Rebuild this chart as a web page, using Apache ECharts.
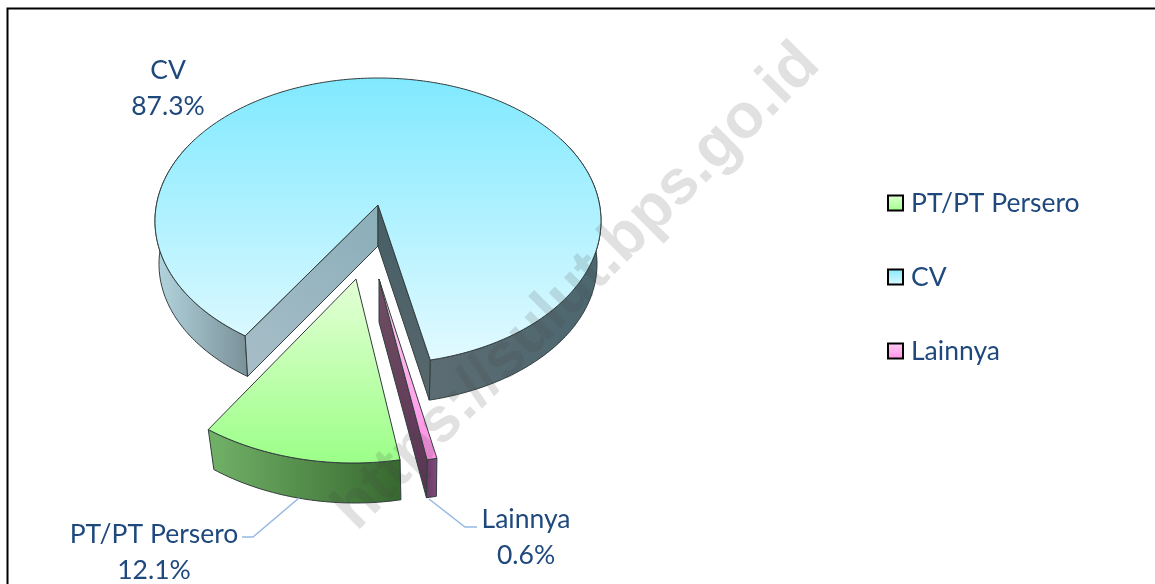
<!DOCTYPE html>
<html>
<head>
<meta charset="utf-8">
<title>Pie</title>
<style>
html, body { margin: 0; padding: 0; background: #fff; }
#main { width: 1155px; height: 584px; }
</style>
<script src="https://cdn.jsdelivr.net/npm/echarts@6/dist/echarts.min.js"></script>
</head>
<body>
<div id="main"></div>
<script>
//categories and values, clockwise from the first slice
var categories = ['PT/PT Persero', 'CV', 'Lainnya'];
var shareValues = [12.1, 87.3, 0.6];

var LABEL_COLOR = '#1f497d';
var LABEL_FONT = '26.5px Lato, "Open Sans", sans-serif';
var EDGE = '#333d3d';
var START_ANGLE = -10.16; //degrees from straight down, clockwise on screen
var WARP = 0.1; //fakes the perspective of the tilted pie

function grad(x0, y0, x1, y1, c0, c1) {
	return new echarts.graphic.LinearGradient(x0, y0, x1, y1, [
		{ offset: 0, color: c0 },
		{ offset: 1, color: c1 }
	]);
}

//one layout per slice: top and bottom ellipse, apex of the wedge, colours, label
var layouts = {
	'CV': {
		top: { cx: 378, cy: 221, rx: 223, ry: 143 },
		bottom: { cx: 378, cy: 264, rx: 219, ry: 140 },
		apex: [378, 205],
		apexLow: [378, 246],
		topFill: grad(0, 0, 0, 1, '#80e9ff', '#e2faff'),
		walls: [
			{ to: 120, fill: grad(0, 0, 1, 0, '#b4d6e0', '#7a9098') },
			{ to: 240, fill: grad(1, 0, 0, 0, '#4c6770', '#5c6c72') }
		],
		faces: [
			{ end: 'start', fill: grad(1, 0, 0, 1, '#8aaeb9', '#a8bec8') },
			{ end: 'end', fill: grad(0, 0, 0, 1, '#465e66', '#58686d') }
		],
		labelPos: [168, 88],
		leader: null
	},
	'PT/PT Persero': {
		top: { cx: 353, cy: 293, rx: 243, ry: 170 },
		bottom: { cx: 355, cy: 333, rx: 237, ry: 170 },
		apex: [356, 279],
		topFill: grad(0, 0, 0, 1, '#e4ffd6', '#9cff88'),
		walls: [
			{ fill: grad(0, 0, 1, 0, '#72b268', '#37682f') }
		],
		faces: [],
		labelPos: [154, 552],
		leader: [[242, 537], [253, 537], [299, 498]]
	},
	'Lainnya': {
		top: { cx: 380, cy: 293, rx: 243, ry: 170 },
		bottom: { cx: 379, cy: 331, rx: 245, ry: 170 },
		apex: [379, 279],
		apexLow: [379, 322],
		topFill: grad(0, 0, 0, 1, '#ffd0f4', '#ff8fe6'),
		walls: [
			{ fill: grad(0, 0, 1, 0, '#6a3a62', '#804c80') }
		],
		faces: [
			{ end: 'end', fill: grad(0, 0, 0, 1, '#6e5062', '#5c3256') }
		],
		labelPos: [526, 537],
		leader: [[477, 527], [465, 527], [429, 499]]
	}
};

var total = 0;
for (var i = 0; i < shareValues.length; i++) {
	total += shareValues[i];
}

//angle range of a slice, taken from the values
var sliceRange = function(index) {
	var before = 0;
	for (var i = 0; i < index; i++) {
		before += shareValues[i];
	}
	return [
		START_ANGLE + before / total * 360,
		START_ANGLE + (before + shareValues[index]) / total * 360
	];
};

var warp = function(deg) {
	var r = deg * Math.PI / 180;
	return r + WARP * Math.sin(r);
};

var onEllipse = function(e, deg) {
	var a = warp(deg);
	return [e.cx - e.rx * Math.sin(a), e.cy + e.ry * Math.cos(a)];
};

var arc = function(e, from, to) {
	var pts = [];
	var n = Math.max(2, Math.ceil(Math.abs(to - from)));
	for (var i = 0; i <= n; i++) {
		pts.push(onEllipse(e, from + (to - from) * i / n));
	}
	return pts;
};

var polygon = function(points, fill, width) {
	return {
		type: 'polygon',
		shape: { points: points },
		style: { fill: fill, stroke: EDGE, lineWidth: width || 1 }
	};
};

var renderSlice = function(params, api) {
	var index = params.seriesIndex;
	var name = categories[index];
	var lay = layouts[name];
	var range = sliceRange(index);
	var children = [];

	//outer wall
	var wallEnds = lay.walls.length == 2 ? [[range[0], lay.walls[0].to], [range[1], lay.walls[1].to]] : [range];
	lay.walls.forEach(function(w, k) {
		var a = wallEnds[k][0];
		var b = wallEnds[k][1];
		children.push(polygon(arc(lay.top, a, b).concat(arc(lay.bottom, b, a)), w.fill));
	});

	//cut faces of the wedge
	lay.faces.forEach(function(f) {
		var deg = f.end == 'start' ? range[0] : range[1];
		children.push(polygon([
			lay.apex,
			onEllipse(lay.top, deg),
			onEllipse(lay.bottom, deg),
			lay.apexLow
		], f.fill));
	});

	//top surface
	children.push(polygon([lay.apex].concat(arc(lay.top, range[0], range[1])), lay.topFill));

	//leader line
	if (lay.leader) {
		children.push({
			type: 'polyline',
			shape: { points: lay.leader },
			style: { fill: null, stroke: '#95b8e3', lineWidth: 1.5 }
		});
	}

	//label, two lines
	children.push({
		type: 'text',
		style: {
			text: name + '\n' + api.value(0).toFixed(1) + '%',
			x: lay.labelPos[0],
			y: lay.labelPos[1],
			fill: LABEL_COLOR,
			font: LABEL_FONT,
			lineHeight: 36,
			align: 'center',
			verticalAlign: 'middle'
		}
	});

	return { type: 'group', children: children };
};

//drawn back to front but kept in category order so the angles follow the data
var drawOrder = { 'CV': 1, 'PT/PT Persero': 2, 'Lainnya': 3 };
var seriesList = categories.map(function(name, idx) {
	return {
		name: name,
		type: 'custom',
		coordinateSystem: 'none',
		z: drawOrder[name] + 1,
		silent: true,
		renderItem: renderSlice,
		data: [shareValues[idx]]
	};
});

var legendColors = {
	'PT/PT Persero': grad(0, 0, 0, 1, '#e4ffd6', '#9cff88'),
	'CV': grad(0, 0, 0, 1, '#80e9ff', '#e2faff'),
	'Lainnya': grad(0, 0, 0, 1, '#ffd0f4', '#ff8fe6')
};

var option = {
	animation: false,
	backgroundColor: '#ffffff',
	legend: {
		orient: 'vertical',
		left: 882,
		top: 181,
		itemWidth: 15,
		itemHeight: 15,
		itemGap: 40,
		icon: 'rect',
		textStyle: { color: LABEL_COLOR, fontFamily: 'Lato, "Open Sans", sans-serif', fontSize: 26.5, padding: [0, 0, 0, 3], lineHeight: 34 },
		data: categories.map(function(name) {
			return {
				name: name,
				itemStyle: { color: legendColors[name], borderColor: '#000', borderWidth: 2 }
			};
		})
	},
	graphic: [{
		type: 'rect',
		z: 0,
		silent: true,
		shape: { x: 7.5, y: 8.5, width: 1160, height: 600 },
		style: { fill: null, stroke: '#000', lineWidth: 2 }
	}, {
		type: 'text',
		z: 100,
		silent: true,
		x: 577,
		y: 287,
		rotation: Math.PI / 4,
		style: {
			text: 'https://sulut.bps.go.id',
			font: 'bold 63px "Liberation Sans", Arial, sans-serif',
			fill: 'rgba(70,70,70,0.16)',
			align: 'center',
			verticalAlign: 'middle'
		}
	}],
	series: seriesList
};

var chart = echarts.init(document.getElementById('main'), null, { renderer: 'canvas' });
chart.setOption(option);
</script>
</body>
</html>
